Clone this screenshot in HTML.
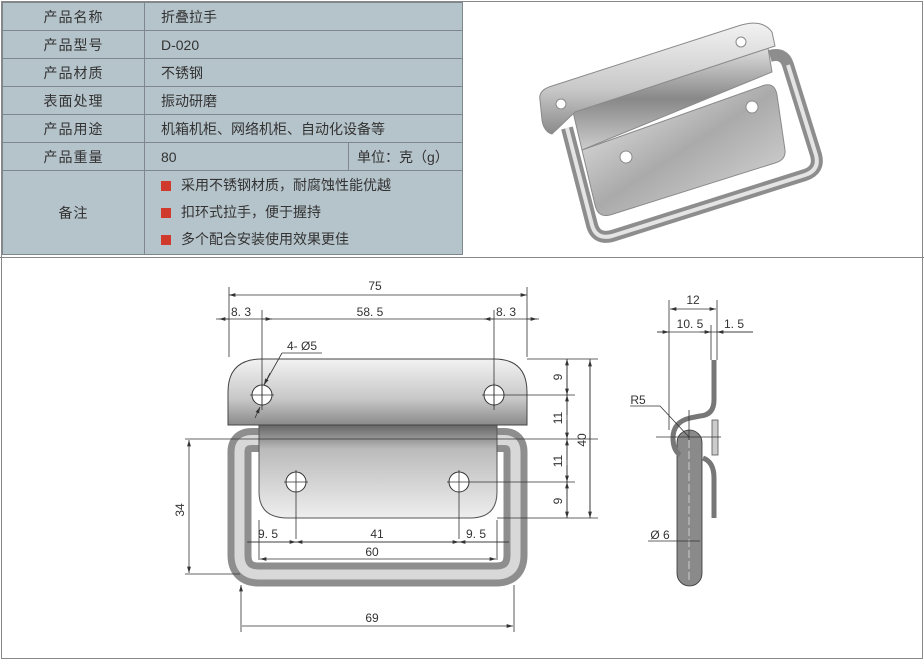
<!DOCTYPE html>
<html><head><meta charset="utf-8"><style>
body{margin:0;width:924px;height:660px;background:#fff;position:relative;overflow:hidden;font-family:"Liberation Sans","Noto Sans CJK SC",sans-serif;}
.frame{position:absolute;left:1px;top:1px;width:920px;height:656px;border:1px solid #888;}
table{position:absolute;left:2px;top:2px;border-collapse:collapse;table-layout:fixed;width:460px;background:#b5c3ca;color:#333;font-size:14px;}
td{border:1px solid #7d878c;height:27px;padding:0;overflow:hidden;white-space:nowrap}
td.k{text-align:center;letter-spacing:1px}
td.v{padding-left:16px}
.hl{position:absolute;left:0;top:257px;width:924px;height:1px;background:#888}
.b{display:inline-block;width:10px;height:10px;background:#d03a2c;margin-right:10px;vertical-align:-1px}
</style></head><body>
<div class="frame"></div>
<table>
<colgroup><col style="width:142px"><col style="width:204px"><col style="width:114px"></colgroup>
<tr><td class="k">产品名称</td><td class="v" colspan="2">折叠拉手</td></tr>
<tr><td class="k">产品型号</td><td class="v" colspan="2">D-020</td></tr>
<tr><td class="k">产品材质</td><td class="v" colspan="2">不锈钢</td></tr>
<tr><td class="k">表面处理</td><td class="v" colspan="2">振动研磨</td></tr>
<tr><td class="k">产品用途</td><td class="v" colspan="2">机箱机柜、网络机柜、自动化设备等</td></tr>
<tr><td class="k">产品重量</td><td class="v">80</td><td style="padding-left:8px">单位：克（g）</td></tr>
<tr><td class="k" style="height:83px">备注</td><td colspan="2" style="padding-left:16px;line-height:27px"><span class="b"></span>采用不锈钢材质，耐腐蚀性能优越<br><span class="b"></span>扣环式拉手，便于握持<br><span class="b"></span>多个配合安装使用效果更佳</td></tr>
</table>
<div class="hl"></div>
<svg width="924" height="660" style="position:absolute;left:0;top:0" font-family="Liberation Sans, sans-serif" font-size="12" fill="#333">
<defs>
<linearGradient id="g1" x1="0" y1="0" x2="0" y2="1"><stop offset="0" stop-color="#f2f2f2"/><stop offset=".6" stop-color="#c8c8c8"/><stop offset="1" stop-color="#8a8a8a"/></linearGradient>
<linearGradient id="g2" x1="0" y1="0" x2="0" y2="1"><stop offset="0" stop-color="#555"/><stop offset=".3" stop-color="#bbb"/><stop offset="1" stop-color="#eee"/></linearGradient>
<linearGradient id="g3" x1="0" y1="0" x2="1" y2="1"><stop offset="0" stop-color="#eee"/><stop offset=".5" stop-color="#aaa"/><stop offset="1" stop-color="#ddd"/></linearGradient>
<linearGradient id="g4" x1="0" y1="0" x2="0" y2="1"><stop offset="0" stop-color="#ddd"/><stop offset=".5" stop-color="#888"/><stop offset="1" stop-color="#ccc"/></linearGradient>
<marker id="a" viewBox="0 0 10 6" refX="10" refY="3" markerWidth="8" markerHeight="5" orient="auto-start-reverse"><path d="M0 0L10 3L0 6z" fill="#333"/></marker>
</defs>
<!-- photo -->
<g stroke="#8a8a8a" stroke-width="1">
<path d="M567 128 L592 225 Q596 240 612 236 L805 175 Q820 170 816 155 L788 65 Q784 52 770 56" fill="none" stroke="#8d8d8d" stroke-width="12" stroke-linejoin="round"/>
<path d="M567 128 L592 225 Q596 240 612 236 L805 175 Q820 170 816 155 L788 65" fill="none" stroke="#e4e4e4" stroke-width="4"/>
<path d="M582 150 L765 85 Q775 83 777 95 L785 150 Q786 160 775 163 L610 215 Q598 218 595 205 Z" fill="url(#g3)"/>
<path d="M573 112 L768 48 L772 72 L582 150 Z" fill="url(#g4)"/>
<path d="M540 100 Q538 90 552 86 L738 26 Q762 18 772 32 L775 46 L575 112 L552 134 Q544 132 542 120 Z" fill="url(#g1)"/>
<circle cx="561" cy="104" r="5" fill="#fff"/><circle cx="741" cy="42" r="5" fill="#fff"/>
<circle cx="626" cy="157" r="6" fill="#fff"/><circle cx="752" cy="107" r="6" fill="#fff"/>
</g>
<!-- front view -->
<g stroke="#333" stroke-width="1">
<path d="M239.5 452 Q239.5 440 252 440 L504 440 Q515.5 440 515.5 452 L515.5 555 Q515.5 574.5 496 574.5 L259 574.5 Q239.5 574.5 239.5 555 Z" fill="none" stroke="#8e8e8e" stroke-width="24"/>
<path d="M239.5 452 Q239.5 440 252 440 L504 440 Q515.5 440 515.5 452 L515.5 555 Q515.5 574.5 496 574.5 L259 574.5 Q239.5 574.5 239.5 555 Z" fill="none" stroke="#d8d8d8" stroke-width="10"/>
<path d="M259 420 L497 420 L497 492 Q497 518 470 518 L288 518 Q259 518 259 492 Z" fill="url(#g2)" stroke="#555"/>
<path d="M228 425 L228 392 Q228 359 262 359 L494 359 Q527 359 527 392 L527 425 Z" fill="url(#g1)" stroke="#444"/>
<circle cx="262" cy="395" r="10" fill="#fff"/><circle cx="494" cy="395" r="10" fill="#fff"/>
<circle cx="296" cy="482" r="10" fill="#fff"/><circle cx="459" cy="482" r="10" fill="#fff"/>
<g stroke-width=".8">
<path d="M250 395h24M262 383v24M482 395h24M494 383v24M284 482h24M296 470v24M447 482h24M459 470v24"/>
<path d="M229 287v70M527 287v70M262 310v100M494 310v100"/>
<path d="M229 295H527" marker-start="url(#a)" marker-end="url(#a)"/>
<path d="M216 319H539"/><path d="M229 319h-10" marker-end="url(#a)"/><path d="M262 319h10" marker-end="url(#a)"/><path d="M494 319h-10" marker-end="url(#a)"/><path d="M527 319h10" marker-end="url(#a)"/>
<path d="M282 353h40M282 353L264 385" /><path d="M270 373L264 385" marker-end="url(#a)"/><path d="M255 418L260 407" marker-end="url(#a)"/>
<path d="M527 359h71M506 395h69M185 439h413M471 482h104M497 518h101M185 574h55"/>
<path d="M567 359V518M590 359V518" /><path d="M567 380V359" marker-end="url(#a)"/><path d="M567 375V395" marker-end="url(#a)"/><path d="M567 420V439" marker-end="url(#a)"/><path d="M567 460V439" marker-end="url(#a)"/><path d="M567 500V518" marker-end="url(#a)"/><path d="M567 500V482" marker-end="url(#a)"/><path d="M567 415V395" marker-end="url(#a)"/><path d="M567 465V482" marker-end="url(#a)"/>
<path d="M590 360V518" marker-start="url(#a)" marker-end="url(#a)"/>
<path d="M189 440V573" marker-start="url(#a)" marker-end="url(#a)"/>
<path d="M296 494v45M459 494v45M247 542H509M259 520v40M497 520v40"/><path d="M248 542h48" marker-end="url(#a)"/><path d="M459 542h-163" marker-end="url(#a)" marker-start="url(#a)"/><path d="M509 542h-50" marker-end="url(#a)"/>
<path d="M260 559H496" marker-start="url(#a)" marker-end="url(#a)"/>
<path d="M241 585v47M514 585v47M242 626H513" marker-start="url(#a)" marker-end="url(#a)"/>
</g>
</g>
<g text-anchor="middle" font-size="12">
<text x="375" y="290">75</text><text x="241" y="316">8. 3</text><text x="370" y="316">58. 5</text><text x="506" y="316">8. 3</text>
<text x="302" y="350">4- Ø5</text>
<text x="268" y="538">9. 5</text><text x="377" y="538">41</text><text x="476" y="538">9. 5</text><text x="372" y="556">60</text><text x="372" y="622">69</text>
<text transform="translate(562,377) rotate(-90)">9</text><text transform="translate(562,418) rotate(-90)">11</text><text transform="translate(562,461) rotate(-90)">11</text><text transform="translate(562,501) rotate(-90)">9</text>
<text transform="translate(586,440) rotate(-90)">40</text><text transform="translate(184,510) rotate(-90)">34</text>
<text x="693" y="304">12</text><text x="690" y="328">10. 5</text><text x="734" y="328">1. 5</text>
<text x="638" y="404">R5</text><text x="660" y="539">Ø 6</text>
</g>
<!-- side view -->
<g stroke="#333" stroke-width=".8" fill="none">
<path d="M669 300v130M711 325v35M717 300v60"/>
<path d="M670 309H716" marker-start="url(#a)" marker-end="url(#a)"/>
<path d="M657 332H753"/><path d="M657 332h12" marker-end="url(#a)"/><path d="M700 332h11" marker-end="url(#a)"/><path d="M753 332h-36" marker-end="url(#a)"/>
<rect x="677" y="430" width="25" height="156" rx="12.5" fill="#8a8a8a" stroke="#333"/>
<path d="M689 440v140" stroke="#ddd" stroke-dasharray="8 3"/>
<path d="M714 360 V400 Q714 415 700 416 L690 418 Q673 422 673 438 Q673 450 680 455" stroke="#777" stroke-width="5"/>
<path d="M703 458 Q714 462 714 478 V518" stroke="#777" stroke-width="5"/>
<rect x="712" y="420" width="6" height="35" fill="#ccc" stroke="#555"/>
<path d="M630 406H660L689 437M656 437h65M689 410v30M648 541H700"/>
</g>
</svg>
</body></html>
